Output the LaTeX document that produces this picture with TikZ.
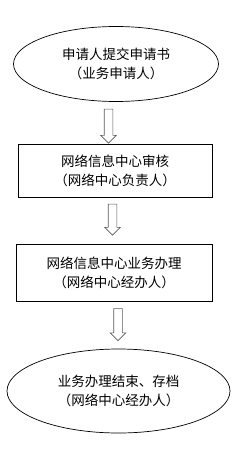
\documentclass[tikz,border=0pt]{standalone}
\usepackage{fontspec}
\setmainfont{Noto Sans CJK SC}
\usetikzlibrary{shapes.geometric,shapes.arrows}
\tikzset{
  stepoval/.style={draw,line width=0.7bp,ellipse,inner sep=0pt,align=center},
  stepbox/.style={draw,line width=0.7bp,rectangle,inner sep=0pt,align=center},
  downarrow/.style={draw=black!65,line width=0.6bp,single arrow,rotate=-90,inner sep=0pt,
    minimum width=15bp,single arrow head extend=3.5bp,single arrow tip angle=90,
    text width=0pt,text height=4bp,text depth=4bp}
}
\begin{document}
\begin{tikzpicture}[x=1bp,y=-1bp,font=\fontsize{13.5bp}{19bp}\selectfont]
  \useasboundingbox (0,0) rectangle (250,462);
  % start
  \node[stepoval,minimum width=205bp,minimum height=75bp] (apply) at (116,64)
    {申请人提交申请书\\（业务申请人）};
  % review
  \node[stepbox,minimum width=194bp,minimum height=53bp] (review) at (115,170.5)
    {网络信息中心审核\\（网络中心负责人）};
  % handling
  \node[stepbox,minimum width=196bp,minimum height=57bp] (handle) at (114,272.5)
    {网络信息中心业务办理\\（网络中心经办人）};
  % end
  \node[stepoval,minimum width=223bp,minimum height=84bp] (archive) at (118.5,391)
    {业务办理结束、存档\\（网络中心经办人）};
  % arrows
  \node[downarrow,minimum height=34bp] (a1) at (108.5,124) {};
  \node[downarrow,minimum height=31bp] (a2) at (112.5,217.5) {};
  \node[downarrow,minimum height=32bp] (a3) at (118,322.5) {};
\end{tikzpicture}
\end{document}
